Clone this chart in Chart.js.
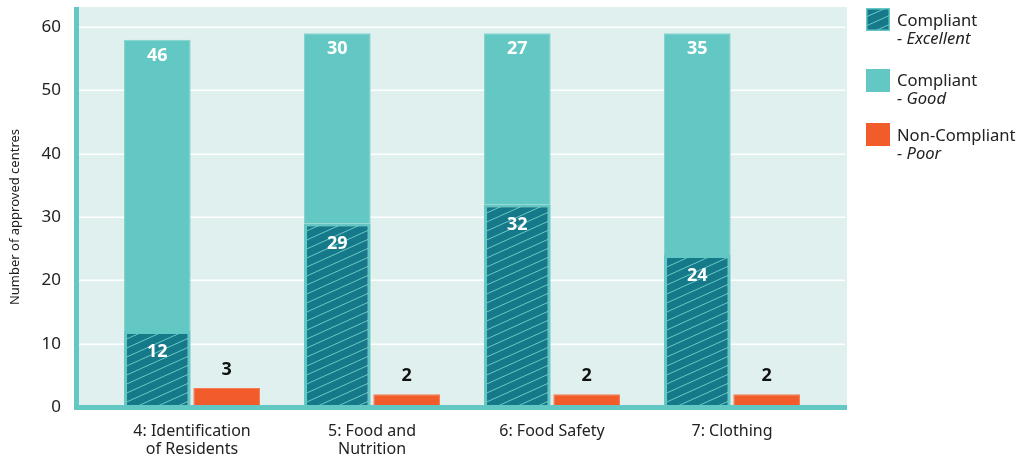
<!DOCTYPE html>
<html>
<head>
<meta charset="utf-8">
<script src="https://cdn.jsdelivr.net/npm/chart.js@4.4.1/dist/chart.umd.min.js"></script>
<style>
  html, body { margin: 0; padding: 0; background: #ffffff; }
  #wrap { position: relative; width: 1020px; height: 459px; }
  #chart { position: absolute; left: 0; top: 0; }
  .leg { position: absolute; left: 866px; font-family: 'Noto Sans', sans-serif; font-size: 16.6px; color: #222; }
  .leg .sw { position: absolute; left: 0; width: 24px; height: 23px; box-sizing: border-box; }
  .leg .tx { position: absolute; left: 31px; line-height: 18px; white-space: nowrap; }
  .leg .tx i { font-style: italic; }
</style>
</head>
<body>
<div id="wrap">
  <canvas id="chart" width="1020" height="459"></canvas>
  <div class="leg" style="top:0">
    <canvas class="sw" id="swEx" width="24" height="23" style="top:8px"></canvas>
    <div class="tx" style="top:11px">Compliant<br><i>- Excellent</i></div>
  </div>
  <div class="leg" style="top:0">
    <div class="sw" style="top:69px;background:#63c8c3"></div>
    <div class="tx" style="top:71px">Compliant<br><i>- Good</i></div>
  </div>
  <div class="leg" style="top:0">
    <div class="sw" style="top:123px;background:#f25c2b"></div>
    <div class="tx" style="top:126px">Non-Compliant<br><i>- Poor</i></div>
  </div>
</div>
<script>
// Standards and the number of approved centres in each rating
const categories = [['4: Identification', 'of Residents'], ['5: Food and', 'Nutrition'], '6: Food Safety', '7: Clothing'];
const excellent = [12, 29, 32, 24];
const good = [46, 30, 27, 35];
const poor = [3, 2, 2, 2];
const yTicks = [0, 10, 20, 30, 40, 50, 60];

const DARK = '#15798a';
const LIGHT = '#63c8c3';
const ORANGE = '#f25c2b';
const PLOT_BG = '#dff0ef';
const FONT = "'Noto Sans', sans-serif";

// Diagonal hatch used for the "Excellent" bars
function makeHatch(ctx) {
  const w = 20, h = 9;
  const c = document.createElement('canvas');
  c.width = w; c.height = h;
  const g = c.getContext('2d');
  g.fillStyle = DARK;
  g.fillRect(0, 0, w, h);
  g.strokeStyle = 'rgba(115,208,203,0.9)';
  g.lineWidth = 1;
  for (let k = -1; k <= 1; k++) {
    g.beginPath();
    g.moveTo(-w, 2 * h + k * h);
    g.lineTo(2 * w, -h + k * h);
    g.stroke();
  }
  return ctx.createPattern(c, 'repeat');
}

const mainCtx = document.getElementById('chart').getContext('2d');
const hatch = makeHatch(mainCtx);

// legend swatch
(function () {
  const sc = document.getElementById('swEx');
  const g = sc.getContext('2d');
  g.fillStyle = LIGHT;
  g.fillRect(0, 0, 24, 23);
  g.fillStyle = makeHatch(g);
  g.fillRect(1.5, 1.5, 21, 20);
})();

// Plot panel, white gridlines and the thick teal axis lines
const panelPlugin = {
  id: 'panel',
  beforeDraw(chart) {
    const { ctx, chartArea: a, scales: { y } } = chart;
    const left = a.left - 27, right = a.right + 25, top = a.top - 20, bottom = a.bottom + 3;
    ctx.save();
    ctx.fillStyle = PLOT_BG;
    ctx.fillRect(left, top, right - left, bottom - top);
    ctx.strokeStyle = '#ffffff';
    ctx.lineWidth = 1.5;
    yTicks.forEach(v => {
      const py = Math.round(y.getPixelForValue(v)) + 0.25;
      ctx.beginPath();
      ctx.moveTo(left + 4, py);
      ctx.lineTo(right - 2, py);
      ctx.stroke();
    });
    ctx.restore();
  },
  afterDatasetsDraw(chart) {
    const { ctx, chartArea: a } = chart;
    const left = a.left - 28, right = a.right + 25, top = a.top - 20, bottom = a.bottom + 3;
    ctx.save();
    ctx.fillStyle = LIGHT;
    ctx.fillRect(left, top, 5, bottom - top);
    ctx.fillRect(left, bottom - 5, right - left, 5);
    ctx.restore();
  }
};

// Value labels on each bar
const valuePlugin = {
  id: 'values',
  afterDatasetsDraw(chart) {
    const { ctx } = chart;
    ctx.save();
    ctx.font = 'bold 18px ' + FONT;
    ctx.textAlign = 'center';
    ctx.textBaseline = 'middle';
    chart.data.datasets.forEach((ds, i) => {
      const meta = chart.getDatasetMeta(i);
      meta.data.forEach((el, j) => {
        const v = ds.data[j];
        let ty, col;
        if (ds.label === 'Poor') { ty = el.y - 18; col = '#111111'; }
        else if (ds.label === 'Excellent') { ty = el.y + 21; col = '#ffffff'; }
        else { ty = el.y + 16; col = '#ffffff'; }
        ctx.fillStyle = col;
        ctx.fillText(String(v), el.x, ty);
      });
    });
    ctx.restore();
  }
};

new Chart(mainCtx, {
  type: 'bar',
  data: {
    labels: categories,
    datasets: [
      { label: 'Excellent', data: excellent, stack: 'compliant', backgroundColor: hatch,
        borderColor: LIGHT, borderWidth: 3, borderSkipped: 'start' },
      { label: 'Good', data: good, stack: 'compliant', backgroundColor: LIGHT,
        borderColor: '#84d3cf', borderWidth: 1, borderSkipped: 'start' },
      { label: 'Poor', data: poor, stack: 'noncompliant', backgroundColor: ORANGE,
        borderColor: '#f47a55', borderWidth: 1, borderSkipped: 'start' }
    ]
  },
  options: {
    responsive: false,
    animation: false,
    events: [],
    categoryPercentage: 0.77,
    barPercentage: 0.962,
    layout: { padding: { left: 0, right: 198, top: 27, bottom: 0 } },
    plugins: { legend: { display: false }, tooltip: { enabled: false } },
    scales: {
      x: {
        stacked: true,
        grid: { display: false, drawTicks: false },
        border: { display: false },
        ticks: { color: '#222', font: { family: FONT, size: 16, lineHeight: 1.15 }, padding: 15, maxRotation: 0, autoSkip: false },
        afterFit(s) { s.height = 52; }
      },
      y: {
        stacked: true,
        min: 0, max: 60,
        grid: { display: false, drawTicks: false },
        border: { display: false },
        ticks: { stepSize: 10, color: '#222', font: { family: FONT, size: 17 }, padding: 41 },
        title: { display: true, text: 'Number of approved centres', color: '#222',
                 font: { family: FONT, size: 13 }, padding: { top: 7, bottom: 0 } },
        afterFit(s) { s.width = 102; s.paddingTop = 0; s.paddingBottom = 0; }
      }
    }
  },
  plugins: [panelPlugin, valuePlugin]
});
</script>
</body>
</html>
